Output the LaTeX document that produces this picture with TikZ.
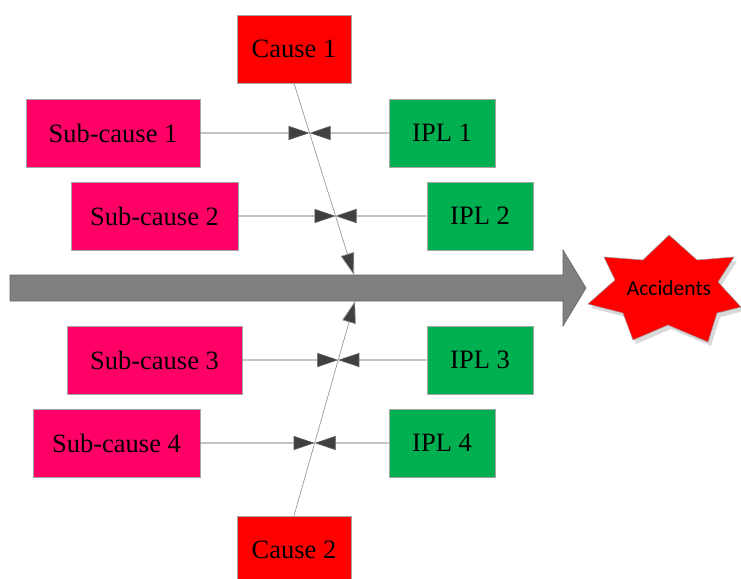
\documentclass[tikz,border=0pt]{standalone}
\usepackage{fontspec}
\setmainfont{Liberation Serif}
\newfontfamily\starfont{Carlito}
\usepackage{tikz}
\usetikzlibrary{arrows.meta,shapes,positioning}
\definecolor{causered}{RGB}{255,0,0}
\definecolor{subpink}{RGB}{255,0,102}
\definecolor{iplgreen}{RGB}{0,176,80}
\definecolor{spine}{RGB}{128,128,128}
\definecolor{tipgray}{RGB}{64,64,64}
\tikzset{
	fishbox/.style={draw=gray!70,line width=0.6pt,minimum height=68pt,inner sep=0pt,font=\fontsize{26.5}{30}\selectfont},
	causebox/.style={fishbox,fill=causered,minimum width=114pt},
	subbox/.style={fishbox,fill=subpink},
	iplbox/.style={fishbox,fill=iplgreen,minimum width=106pt},
	feed/.style={draw=black!65,line width=0.7pt,-{Triangle[length=21pt,width=14pt,fill=tipgray]}},
	bone/.style={draw=gray!80,line width=0.7pt,-{Triangle[length=22pt,width=14pt,fill=tipgray]}}
}

\begin{document}
\begin{tikzpicture}[x=1pt,y=-1pt]
	\useasboundingbox (0,0) rectangle (741,578);

% spine
	\draw[fill=spine,draw=spine!80!black,line width=0.6pt] (10,275) -- (563,275) -- (563,250) -- (586,288) -- (563,326) -- (563,301) -- (10,301) -- cycle;
	\coordinate (t1) at (354,275);
	\coordinate (t2) at (355,301);

% head
	\fill[gray!30] (672,239) -- (700,264) -- (737,261) -- (721,286) -- (744,311) -- (720,317) -- (711,346) -- (671,329) -- (636,344) -- (626,317) -- (591,308) -- (618,284) -- (607,261) -- (646,264) -- cycle;
	\draw[fill=causered,draw=gray!80,line width=0.5pt] (669,235) -- (697,260) -- (734,257) -- (718,282) -- (741,307) -- (717,313) -- (708,342) -- (668,325) -- (633,340) -- (623,313) -- (588,304) -- (615,280) -- (604,257) -- (643,260) -- cycle;
	\node (acc) at (669,288) {\starfont\fontsize{21.5}{24}\selectfont Accidents};

	\node[causebox] (c1) at (294,49) {Cause 1};
	\node[causebox] (c2) at (294,550) {Cause 2};

	\node[subbox,minimum width=174pt] (s1) at (113,133) {Sub-cause 1};
	\node[subbox,minimum width=167pt] (s2) at (154.5,216) {Sub-cause 2};
	\node[subbox,minimum width=175pt] (s3) at (154.5,360) {Sub-cause 3};
	\node[subbox,minimum width=167pt] (s4) at (116.5,443) {Sub-cause 4};

	\node[iplbox] (i1) at (442,133) {IPL 1};
	\node[iplbox] (i2) at (480,216) {IPL 2};
	\node[iplbox] (i3) at (480,360) {IPL 3};
	\node[iplbox] (i4) at (442,443) {IPL 4};

	\draw[bone] (c1.south) -- (t1);
	\draw[bone] (c2.north) -- (t2);

	\draw[feed] (s1.east) -- (intersection of c1.south--t1 and s1.east--i1.west);
	\draw[feed] (i1.west) -- (intersection of c1.south--t1 and s1.east--i1.west);
	\draw[feed] (s2.east) -- (intersection of c1.south--t1 and s2.east--i2.west);
	\draw[feed] (i2.west) -- (intersection of c1.south--t1 and s2.east--i2.west);
	\draw[feed] (s3.east) -- (intersection of c2.north--t2 and s3.east--i3.west);
	\draw[feed] (i3.west) -- (intersection of c2.north--t2 and s3.east--i3.west);
	\draw[feed] (s4.east) -- (intersection of c2.north--t2 and s4.east--i4.west);
	\draw[feed] (i4.west) -- (intersection of c2.north--t2 and s4.east--i4.west);

\end{tikzpicture}
\end{document}
